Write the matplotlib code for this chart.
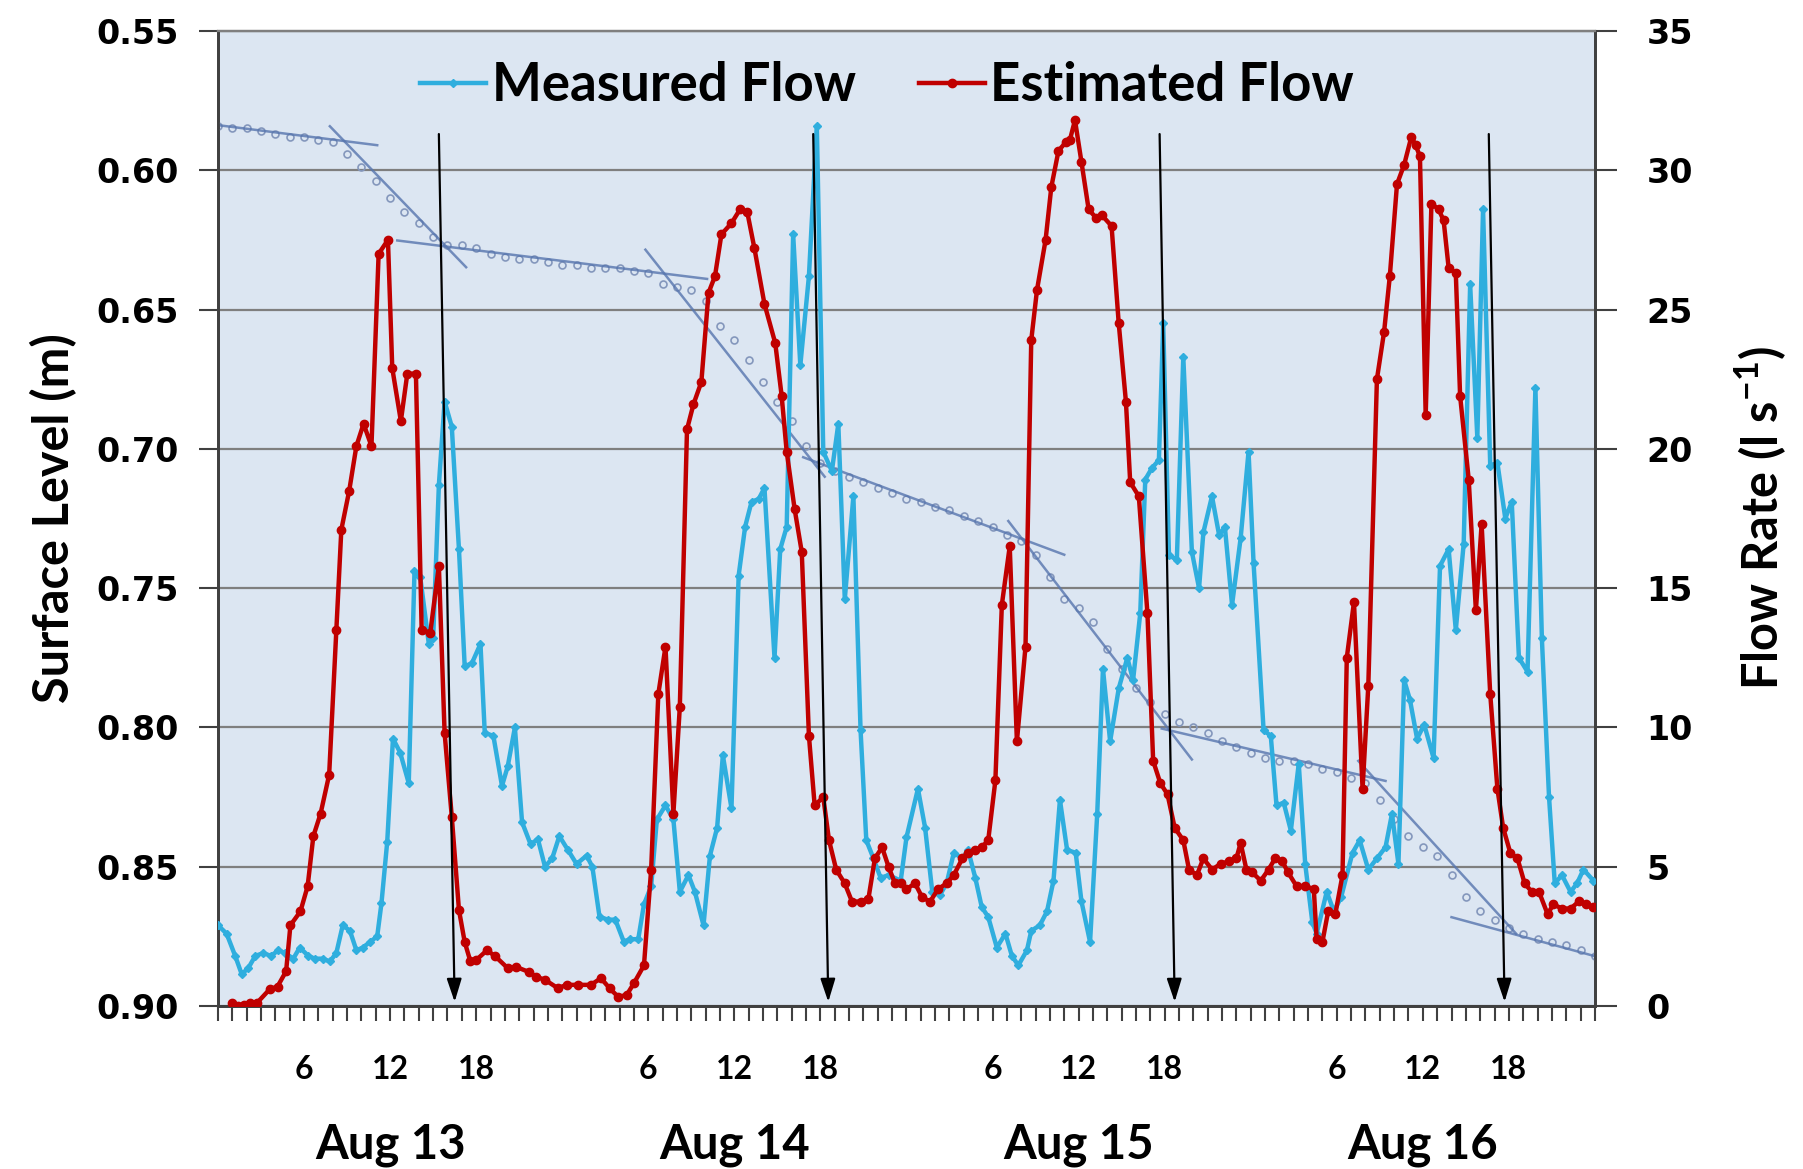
import matplotlib
matplotlib.use("Agg")
import matplotlib.pyplot as plt
import matplotlib.transforms as mtransforms
import numpy as np

# ---- data (hours counted from Aug 13 00:00) ----
measured_hours = [0.0, 0.6, 1.2, 1.65, 2.1, 2.6, 3.15, 3.7, 4.2, 4.7, 5.25, 5.7, 6.3, 6.75, 7.3, 7.8,
                  8.25, 8.7, 9.2, 9.65, 10.1, 10.6, 11.1, 11.4, 11.8, 12.2, 12.7, 13.3, 13.7, 14.1, 14.7,
                  15.0, 15.4, 15.8, 16.3, 16.8, 17.2, 17.7, 18.3, 18.6, 19.2, 19.8, 20.2, 20.7, 21.2,
                  21.8, 22.3, 22.8, 23.3, 23.8, 24.4, 25.0, 25.7, 26.1, 26.6, 27.2, 27.7, 28.3, 28.7,
                  29.3, 29.7, 30.2, 30.6, 31.2, 31.75, 32.2, 32.8, 33.25, 33.85, 34.3, 34.8, 35.2, 35.8,
                  36.3, 36.75, 37.2, 37.7, 38.1, 38.8, 39.2, 39.65, 40.1, 40.6, 41.2, 41.75, 42.2, 42.8,
                  43.25, 43.7, 44.3, 44.8, 45.2, 45.7, 46.2, 46.75, 47.6, 48.0, 48.8, 49.3, 49.8, 50.35,
                  50.8, 51.3, 51.9, 52.3, 52.8, 53.25, 53.7, 54.3, 54.9, 55.35, 55.8, 56.4, 56.7, 57.3,
                  57.8, 58.25, 58.7, 59.2, 59.8, 60.2, 60.8, 61.3, 61.7, 62.2, 62.8, 63.4, 63.8, 64.3,
                  64.65, 65.1, 65.6, 65.9, 66.3, 66.85, 67.3, 67.9, 68.4, 68.7, 69.3, 69.8, 70.2, 70.7,
                  71.3, 71.85, 72.2, 72.9, 73.4, 73.8, 74.3, 74.8, 75.35, 75.8, 76.3, 76.6, 77.3, 77.8,
                  78.3, 79.1, 79.6, 80.2, 80.8, 81.4, 81.85, 82.3, 82.7, 83.1, 83.6, 84.1, 84.75, 85.2,
                  85.8, 86.3, 86.85, 87.3, 87.8, 88.2, 88.7, 89.2, 89.75, 90.2, 90.7, 91.3, 91.85, 92.3,
                  92.8, 93.2, 93.7, 94.3, 94.75, 95.2, 95.9]
measured_flow = [2.9, 2.6, 1.8, 1.15, 1.35, 1.8, 1.9, 1.8, 2.0, 1.9, 1.7, 2.1, 1.8, 1.7, 1.7, 1.6,
                 1.9, 2.9, 2.7, 2.0, 2.1, 2.3, 2.5, 3.7, 5.9, 9.6, 9.1, 8.0, 15.6, 15.4, 13.0,
                 13.2, 18.7, 21.7, 20.8, 16.4, 12.2, 12.3, 13.0, 9.8, 9.7, 7.9, 8.6, 10.0, 6.6,
                 5.8, 6.0, 5.0, 5.3, 6.1, 5.6, 5.1, 5.4, 5.0, 3.2, 3.1, 3.1, 2.3, 2.4,
                 2.4, 3.65, 4.3, 6.7, 7.2, 6.7, 4.1, 4.7, 4.1, 2.9, 5.4, 6.4, 9.0, 7.1,
                 15.45, 17.2, 18.1, 18.2, 18.6, 12.5, 16.4, 17.2, 27.7, 23.0, 26.2, 31.6, 19.9, 19.2,
                 20.9, 14.6, 18.3, 9.9, 5.95, 5.3, 4.6, 4.7, 4.5, 6.05, 7.8, 6.4, 4.1, 4.0,
                 4.4, 5.5, 5.3, 5.6, 4.6, 3.55, 3.2, 2.1, 2.6, 1.8, 1.46, 2.0, 2.7, 2.9,
                 3.4, 4.5, 7.4, 5.6, 5.5, 3.76, 2.3, 6.9, 12.1, 9.5, 11.4, 12.5, 11.7, 14.1,
                 18.9, 19.3, 19.6, 24.5, 16.2, 16.0, 23.3, 16.3, 15.0, 17.0, 18.3, 16.9, 17.2, 14.4,
                 16.8, 19.9, 15.9, 9.9, 9.7, 7.2, 7.3, 6.3, 8.7, 5.1, 3.0, 2.6, 4.1, 3.4,
                 3.9, 5.5, 5.95, 4.9, 5.3, 5.7, 6.9, 5.1, 11.7, 11.0, 9.6, 10.1, 8.9, 15.8,
                 16.4, 13.5, 16.6, 25.9, 20.4, 28.6, 19.4, 19.5, 17.5, 18.1, 12.5, 12.0, 22.2, 13.2,
                 7.5, 4.4, 4.7, 4.1, 4.4, 4.9, 4.5]

estimated_hours = [1.0, 1.4, 1.8, 2.2, 2.7, 3.6, 4.15, 4.75, 5.05, 5.75, 6.25, 6.65, 7.15, 7.75,
                   8.25, 8.6, 9.15, 9.65, 10.15, 10.7, 11.2, 11.85, 12.15, 12.75, 13.2, 13.8, 14.2,
                   14.8, 15.4, 15.8, 16.3, 16.8, 17.2, 17.6, 18.0, 18.75, 19.3, 20.2, 20.8, 21.65,
                   22.2, 22.8, 23.7, 24.3, 25.1, 26.0, 26.7, 27.3, 27.9, 28.5, 29.0, 29.7, 30.2,
                   30.7, 31.2, 31.75, 32.2, 32.7, 33.15, 33.7, 34.2, 34.65, 35.1, 35.8, 36.4, 36.9,
                   37.4, 38.1, 38.85, 39.3, 39.65, 40.2, 40.7, 41.2, 41.6, 42.2, 42.6, 43.1, 43.7,
                   44.2, 44.8, 45.35, 45.8, 46.3, 46.75, 47.2, 47.6, 48.0, 48.6, 49.1, 49.65, 50.2,
                   50.8, 51.3, 51.9, 52.3, 52.8, 53.25, 53.7, 54.2, 54.65, 55.2, 55.7, 56.3, 56.7,
                   57.1, 57.7, 58.1, 58.6, 59.1, 59.4, 59.75, 60.2, 60.7, 61.2, 61.6, 62.3, 62.8,
                   63.3, 63.6, 64.2, 64.8, 65.2, 65.7, 66.2, 66.7, 67.3, 67.7, 68.25, 68.7, 69.3,
                   69.9, 70.5, 71.0, 71.3, 71.7, 72.1, 72.7, 73.25, 73.7, 74.2, 74.6, 75.2, 75.8,
                   76.4, 76.6, 77.0, 77.4, 77.9, 78.4, 78.7, 79.2, 79.8, 80.2, 80.8, 81.3, 81.7,
                   82.2, 82.7, 83.2, 83.5, 83.8, 84.2, 84.6, 85.1, 85.45, 85.8, 86.3, 86.6, 87.2,
                   87.7, 88.1, 88.7, 89.2, 89.6, 90.1, 90.6, 91.1, 91.6, 92.1, 92.7, 93.1, 93.7,
                   94.3, 94.9, 95.4, 95.9]
estimated_flow = [0.1, 0.0, 0.05, 0.1, 0.1, 0.6, 0.7, 1.25, 2.9, 3.4, 4.3, 6.1, 6.9, 8.3,
                  13.5, 17.1, 18.5, 20.1, 20.9, 20.1, 27.0, 27.5, 22.9, 21.0, 22.7, 22.7, 13.5,
                  13.4, 15.8, 9.8, 6.8, 3.45, 2.3, 1.6, 1.65, 2.0, 1.8, 1.36, 1.4, 1.23,
                  1.05, 0.94, 0.64, 0.76, 0.76, 0.76, 1.0, 0.64, 0.33, 0.4, 0.82, 1.46, 4.9,
                  11.2, 12.9, 6.9, 10.75, 20.7, 21.6, 22.4, 25.6, 26.2, 27.7, 28.1, 28.6, 28.5,
                  27.2, 25.2, 23.8, 21.9, 19.9, 17.85, 16.3, 9.7, 7.2, 7.5, 5.95, 4.9, 4.4,
                  3.75, 3.75, 3.86, 5.3, 5.7, 5.0, 4.4, 4.4, 4.2, 4.4, 3.9, 3.75, 4.2,
                  4.4, 4.7, 5.3, 5.5, 5.6, 5.7, 5.95, 8.1, 14.4, 16.5, 9.5, 12.9, 23.9,
                  25.7, 27.5, 29.4, 30.7, 31.0, 31.1, 31.8, 30.3, 28.6, 28.3, 28.4, 28.0, 24.5,
                  21.7, 18.8, 18.3, 14.1, 8.8, 8.0, 7.6, 6.4, 5.95, 4.9, 4.7, 5.3, 4.9,
                  5.1, 5.2, 5.3, 5.85, 4.9, 4.8, 4.5, 4.9, 5.3, 5.2, 4.8, 4.3, 4.3,
                  4.2, 2.4, 2.3, 3.4, 3.3, 4.7, 12.5, 14.5, 7.8, 11.5, 22.5, 24.2, 26.2,
                  29.5, 30.2, 31.2, 30.9, 30.5, 21.2, 28.8, 28.6, 28.2, 26.5, 26.3, 21.9, 18.9,
                  14.2, 17.3, 11.2, 7.8, 6.4, 5.5, 5.3, 4.4, 4.1, 4.1, 3.3, 3.65, 3.5,
                  3.5, 3.76, 3.65, 3.55]

level_hours = list(range(97))
surface_level = [0.584, 0.585, 0.585, 0.586, 0.587, 0.588, 0.588, 0.589, 0.590, 0.594, 0.599, 0.604,
                 0.610, 0.615, 0.619, 0.624, 0.627, 0.627, 0.628, 0.630, 0.631, 0.632, 0.632, 0.633,
                 0.634, 0.634, 0.635, 0.635, 0.635, 0.636, 0.637, 0.641, 0.642, 0.643, 0.647, 0.656,
                 0.661, 0.668, 0.676, 0.683, 0.690, 0.699, 0.705, 0.708, 0.710, 0.712, 0.714, 0.716,
                 0.718, 0.719, 0.721, 0.722, 0.724, 0.726, 0.728, 0.731, 0.733, 0.738, 0.746, 0.754,
                 0.757, 0.762, 0.772, 0.779, 0.786, 0.791, 0.795, 0.798, 0.800, 0.802, 0.805, 0.807,
                 0.809, 0.811, 0.812, 0.812, 0.813, 0.815, 0.816, 0.818, 0.820, 0.826, 0.833, 0.839,
                 0.843, 0.846, 0.853, 0.861, 0.866, 0.869, 0.872, 0.874, 0.876, 0.877, 0.878, 0.880,
                 0.882]

# fitted trend segments of the surface level: start hour, start level, end hour, end level
trend_start_hours = [0.0, 7.8, 12.5, 29.8, 40.8, 55.1, 65.8, 79.5, 86.0]
trend_start_levels = [0.5838, 0.5842, 0.6252, 0.6285, 0.7030, 0.7259, 0.8004, 0.8120, 0.8681]
trend_end_hours = [11.1, 17.3, 34.1, 42.3, 59.0, 67.9, 81.4, 90.5, 96.0]
trend_end_levels = [0.5910, 0.6348, 0.6390, 0.7100, 0.7380, 0.8115, 0.8192, 0.8740, 0.8821]

# arrows (hour at top, hour at tip)
arrow_top_hours = [15.4, 41.5, 65.65, 88.6]
arrow_tip_hours = [16.5, 42.55, 66.7, 89.7]
arrow_top_flow = 31.3
arrow_tip_flow = 0.15

day_names = ["Aug 13", "Aug 14", "Aug 15", "Aug 16"]
hour_labels = [6, 12, 18]

# ---- figure ----
blue = "#2FAEDE"
red = "#C00000"
grid_col = "#7F7F7F"
axis_col = "#404040"

fig = plt.figure(figsize=(18.03, 11.69), dpi=100)
ax = fig.add_axes([0.1209, 0.1394, 0.7637, 0.8341])
ax.set_facecolor("#DCE6F2")
ax2 = ax.twinx()

ax.set_xlim(0, 96)
ax.set_ylim(0.90, 0.55)
ax.set_yticks(np.arange(0.55, 0.901, 0.05))
ax.set_yticklabels(["%.2f" % v for v in np.arange(0.55, 0.901, 0.05)])
ax.yaxis.grid(True, color=grid_col, lw=1.6)
ax.set_axisbelow(True)
ax.set_xticks(np.arange(0, 97, 1))
ax.set_xticklabels([])
ax.tick_params(axis="x", direction="out", length=11, width=1.5, color=axis_col)
ax.tick_params(axis="y", direction="out", length=14, width=1.5, color=axis_col, pad=14,
               labelsize=24)
for lab in ax.get_yticklabels():
    lab.set_fontweight("bold")

ax2.set_ylim(0, 35)
ax2.set_yticks(np.arange(0, 36, 5))
ax2.tick_params(axis="y", direction="out", length=16, width=1.5, color=axis_col, pad=21,
                labelsize=24)
for lab in ax2.get_yticklabels():
    lab.set_fontweight("bold")

for a in (ax, ax2):
    a.spines["top"].set_color(grid_col)
    a.spines["top"].set_linewidth(1.6)
    a.spines["left"].set_color(axis_col)
    a.spines["right"].set_color(axis_col)
    a.spines["bottom"].set_color(axis_col)
    for s in ("left", "right", "bottom"):
        a.spines[s].set_linewidth(2.0)

# surface level points and trend lines
ax.plot(level_hours, surface_level, ls="none", marker="o", ms=5, mfc="none", mec="#8497BC",
        mew=1.2, zorder=3)
for h0, l0, h1, l1 in zip(trend_start_hours, trend_start_levels, trend_end_hours, trend_end_levels):
    ax.plot([h0, h1], [l0, l1], color="#5675AE", lw=1.8, alpha=0.8, zorder=3)

# flows
ax2.plot(measured_hours, measured_flow, color=blue, lw=3.2, marker="D", ms=4,
         label="Measured Flow", zorder=4)
ax2.plot(estimated_hours, estimated_flow, color=red, lw=3.2, marker="o", ms=6,
         label="Estimated Flow", zorder=5)

for ht, hb in zip(arrow_top_hours, arrow_tip_hours):
    ax2.annotate("", xy=(hb, arrow_tip_flow), xytext=(ht, arrow_top_flow),
                 arrowprops=dict(arrowstyle="-|>,head_length=1.4,head_width=0.45",
                                 color="black", lw=1.6, shrinkA=0, shrinkB=0),
                 zorder=6)

# x labels: hours and days
trans = mtransforms.blended_transform_factory(ax.transData, ax.transAxes)
for d, name in enumerate(day_names):
    for hl in hour_labels:
        ax.text(24 * d + hl, -0.065, str(hl), transform=trans, ha="center", va="center",
                fontsize=23, fontweight="bold", family="Lato")
    ax.text(24 * d + 12, -0.143, name, transform=trans, ha="center", va="center",
            fontsize=34, fontweight="bold", family="Lato")

ax.set_ylabel("Surface Level (m)", fontsize=35, fontweight="bold", family="Lato", labelpad=14)
ax2.set_ylabel("Flow Rate (l s$^{\\mathregular{-1}}$)", fontsize=35, fontweight="bold",
               family="Lato", labelpad=28)

leg = ax2.legend(loc="center", bbox_to_anchor=(0.486, 0.944), ncol=2, frameon=False,
                 prop=dict(family="Lato", weight="bold", size=38), handlelength=1.25,
                 handletextpad=0.1, columnspacing=1.2)

fig.savefig("out.png", dpi=100, facecolor="white")
